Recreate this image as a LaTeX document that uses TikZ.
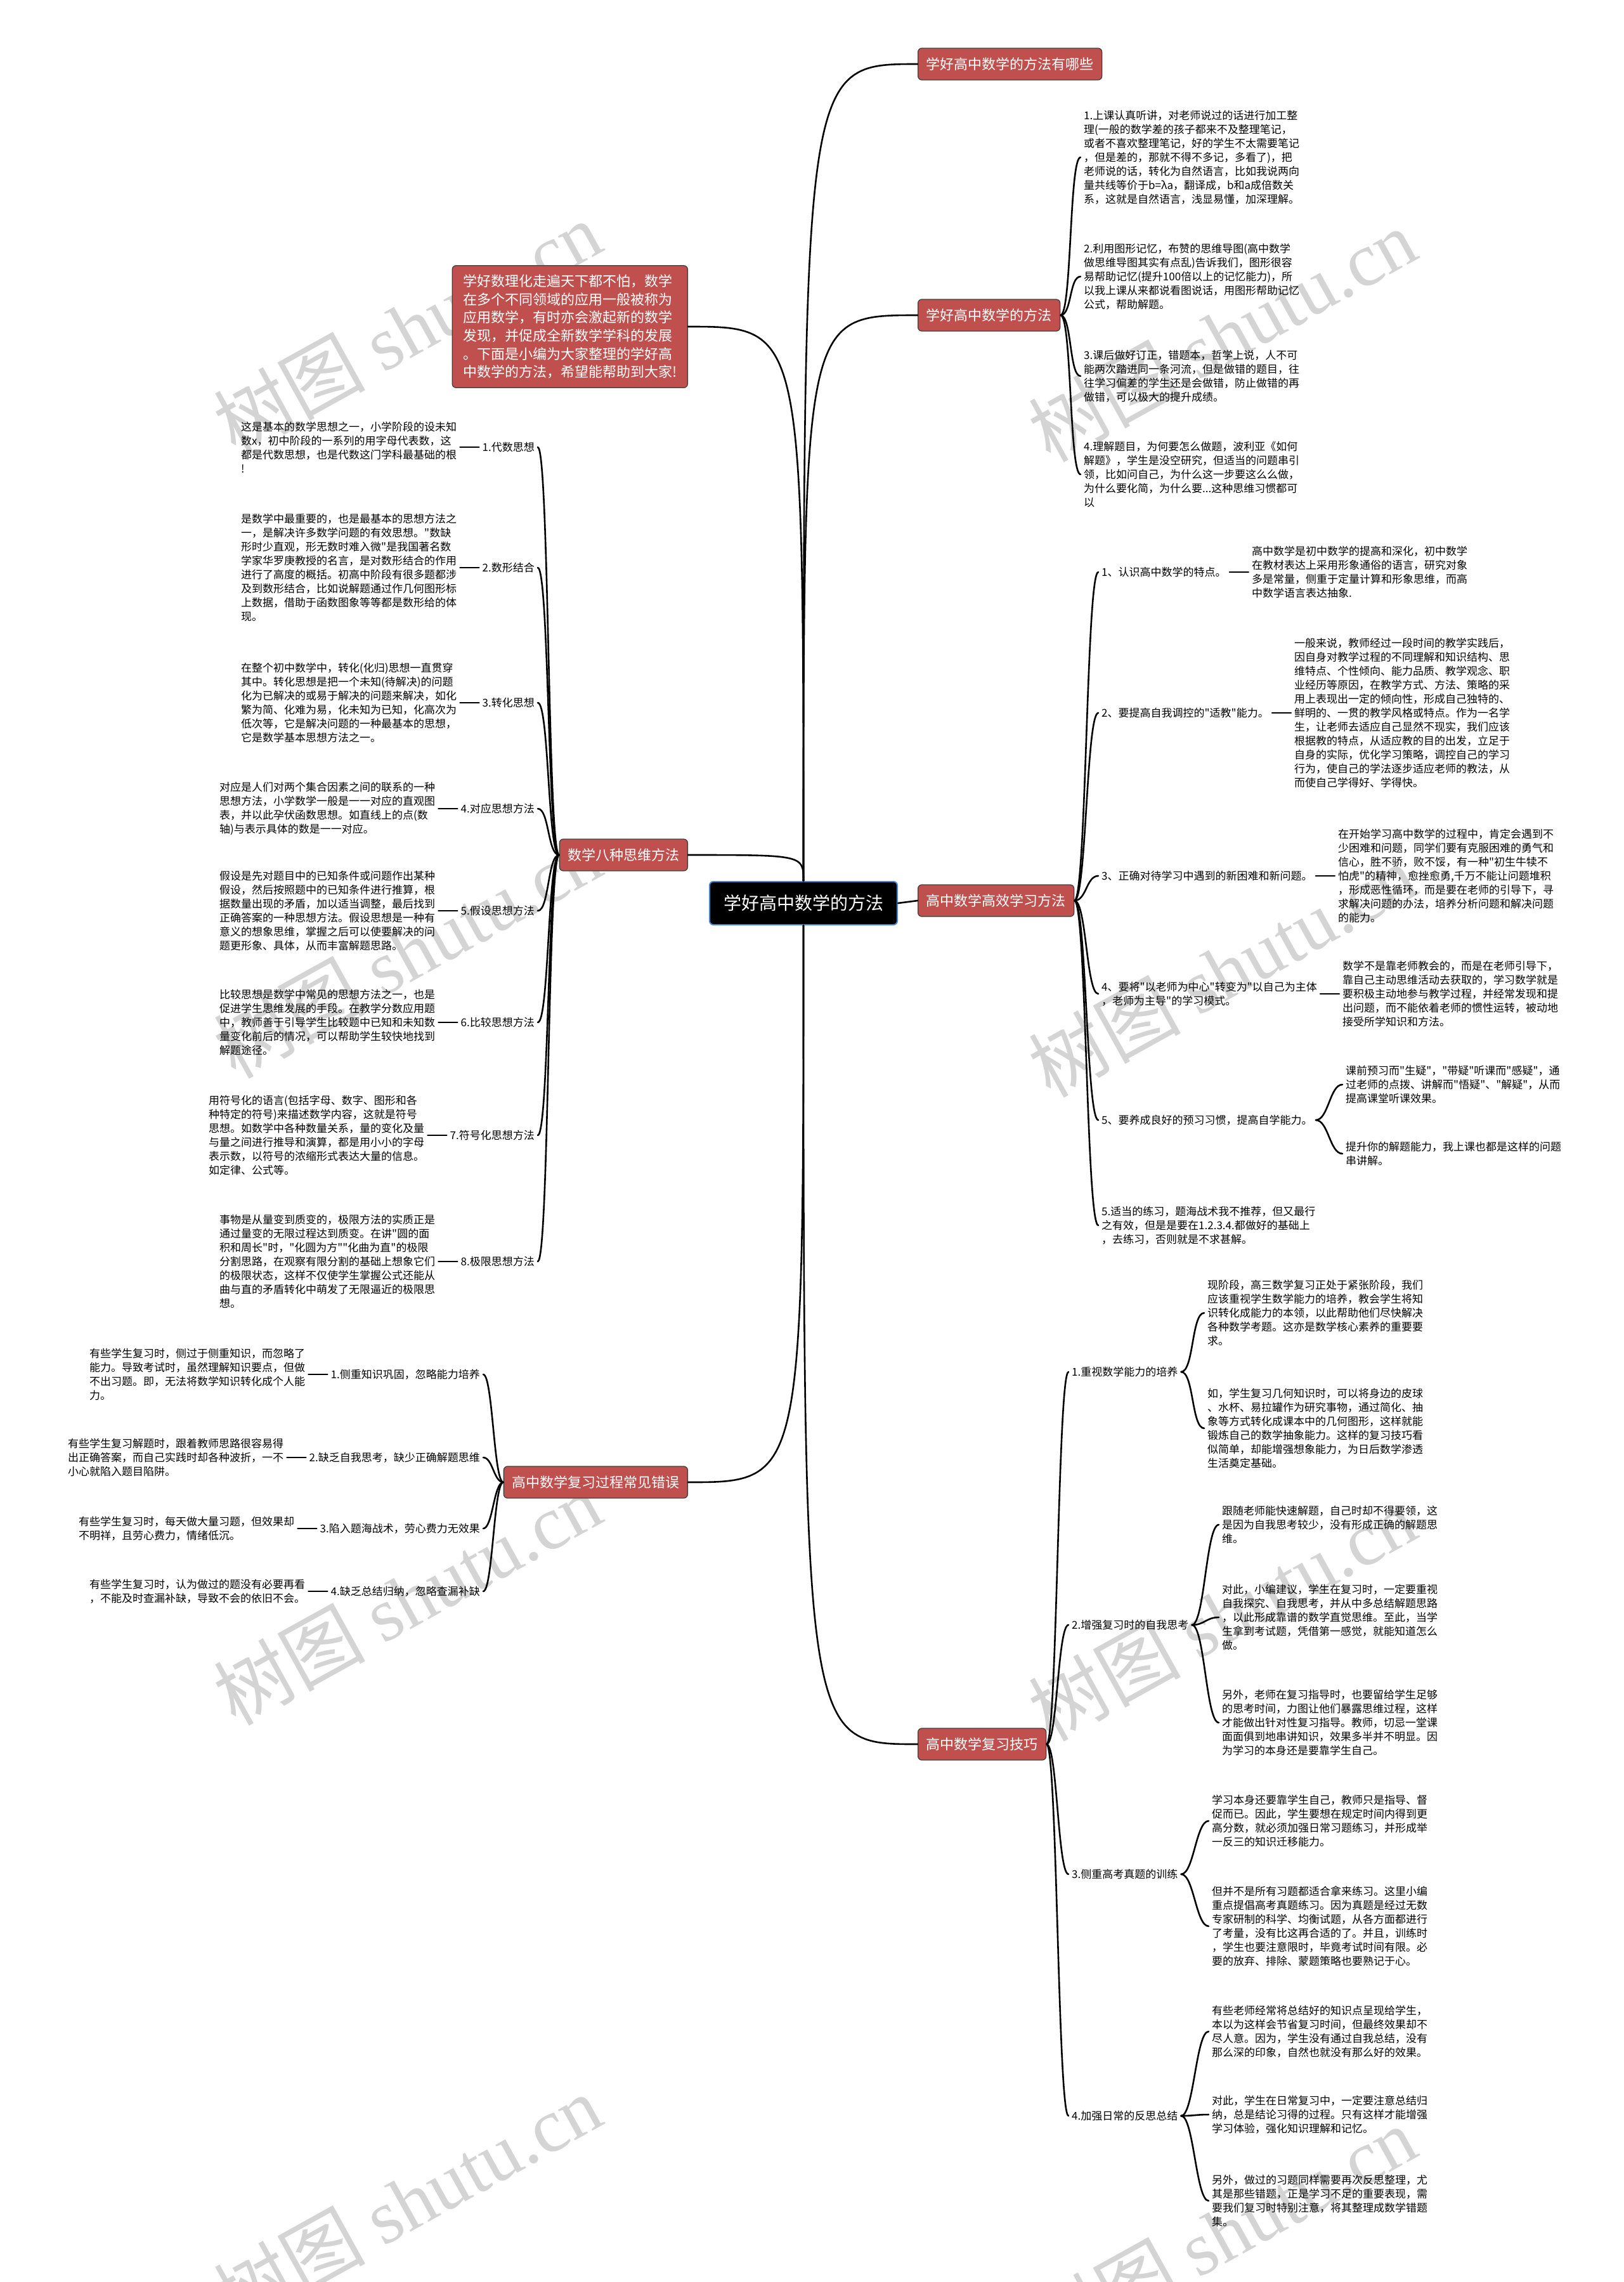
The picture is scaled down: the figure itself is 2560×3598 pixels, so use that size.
\documentclass[tikz,border=0pt]{standalone}
\usepackage{fontspec}
\newfontfamily\cjk[Ligatures=TeXOff]{Noto Sans CJK SC}
\newfontfamily\wmserif{Liberation Serif}
\usetikzlibrary{positioning}
\definecolor{nodered}{RGB}{192,80,77}
\definecolor{rootedge}{RGB}{74,134,206}

\begin{document}
\begin{tikzpicture}[x=1pt, y=-1pt,
  node distance=30pt,
  root/.style={draw=rootedge, line width=2pt, fill=black, text=white, rounded corners=6pt,
               font=\cjk\fontsize{28}{34}\selectfont, minimum width=296pt, minimum height=68pt},
  topic/.style={draw=black!75, line width=1.3pt, fill=nodered, text=white, rounded corners=6pt,
                font=\cjk\fontsize{22}{26}\selectfont, minimum height=50pt, inner xsep=13pt},
  intro/.style={topic, align=left, font=\cjk\fontsize{22}{28.7}\selectfont,
                inner xsep=17pt, inner ysep=14pt},
  leaf/.style={align=left, font=\cjk\fontsize{17}{22}\selectfont, inner sep=5pt},
  link/.style={line width=2.6pt, line cap=round},
  wmark/.style={text=black!17, rotate=29, font=\cjk\fontsize{120}{130}\selectfont}]
  \useasboundingbox (0,0) rectangle (2560,3598);
  \fill[white] (0,0) rectangle (2560,3598);

  % watermark
  \foreach \wx/\wy [count=\w] in {642/516, 1927/528, 642/1500, 1927/1530,
                                  642/2520, 1927/2545, 642/3470, 1927/3520}
    \node[wmark] (wm\w) at (\wx,\wy) {树图 {\wmserif shutu.cn}};

  % centre and main topics
  \node[root] (root) at (1267,1424) {学好高中数学的方法};
  \node[topic, anchor=west] (way) at (1447,101) {学好高中数学的方法有哪些};
  \node[topic, anchor=west] (meth) at (1447,497) {学好高中数学的方法};
  \node[intro, anchor=east] (intro) at (1085,515) {学好数理化走遍天下都不怕，数学\\
    在多个不同领域的应用一般被称为\\应用数学，有时亦会激起新的数学\\
    发现，并促成全新数学学科的发展\\。下面是小编为大家整理的学好高\\
    中数学的方法，希望能帮助到大家!};
  \node[topic, anchor=east] (eight) at (1085,1348) {数学八种思维方法};
  \node[topic, anchor=west] (eff) at (1447,1420) {高中数学高效学习方法};
  \node[topic, anchor=east] (err) at (1085,2337) {高中数学复习过程常见错误};
  \node[topic, anchor=west] (tip) at (1447,2750) {高中数学复习技巧};

  \foreach \t in {way,meth}
    \draw[link] (root.north) .. controls (root.north |- \t.west) and (root.north |- \t.west) .. (\t.west);
  \foreach \t in {intro,eight}
    \draw[link] (root.north) .. controls (root.north |- \t.east) and (root.north |- \t.east) .. (\t.east);
  \draw[link] (root.east) -- (eff.west);
  \draw[link] (root.south) .. controls (root.south |- err.east) and (root.south |- err.east) .. (err.east);
  \draw[link] (root.south) .. controls (root.south |- tip.west) and (root.south |- tip.west) .. (tip.west);

  % 学好高中数学的方法
  \node[leaf, anchor=west] (m1) at (1704,248) {1.上课认真听讲，对老师说过的话进行加工整\\
    理(一般的数学差的孩子都来不及整理笔记，\\或者不喜欢整理笔记，好的学生不太需要笔记\\
    ，但是差的，那就不得不多记，多看了)，把\\老师说的话，转化为自然语言，比如我说两向\\
    量共线等价于b=λa，翻译成，b和a成倍数关\\系，这就是自然语言，浅显易懂，加深理解。};
  \node[leaf, anchor=west] (m2) at (1704,436) {2.利用图形记忆，布赞的思维导图(高中数学\\
    做思维导图其实有点乱)告诉我们，图形很容\\易帮助记忆(提升100倍以上的记忆能力)，所\\
    以我上课从来都说看图说话，用图形帮助记忆\\公式，帮助解题。};
  \node[leaf, anchor=west] (m3) at (1704,593) {3.课后做好订正，错题本，哲学上说，人不可\\
    能两次踏进同一条河流，但是做错的题目，往\\往学习偏差的学生还是会做错，防止做错的再\\
    做错，可以极大的提升成绩。};
  \node[leaf, anchor=west] (m4) at (1704,748) {4.理解题目，为何要怎么做题，波利亚《如何\\
    解题》，学生是没空研究，但适当的问题串引\\领，比如问自己，为什么这一步要这么么做，\\
    为什么要化简，为什么要...这种思维习惯都可\\以};
  \foreach \c in {m1,m2,m3,m4}
    \draw[link] (meth.east) .. controls +(18,0) and +(-18,0) .. (\c.west);

  % 数学八种思维方法
  \node[leaf, anchor=east] (e1) at (848,705) {1.代数思想};
  \node[leaf, anchor=east] (e2) at (848,895) {2.数形结合};
  \node[leaf, anchor=east] (e3) at (848,1108) {3.转化思想};
  \node[leaf, anchor=east] (e4) at (848,1275) {4.对应思想方法};
  \node[leaf, anchor=east] (e5) at (848,1436) {5.假设思想方法};
  \node[leaf, anchor=east] (e6) at (848,1612) {6.比较思想方法};
  \node[leaf, anchor=east] (e7) at (848,1790) {7.符号化思想方法};
  \node[leaf, anchor=east] (e8) at (848,1989) {8.极限思想方法};
  \node[leaf, left=of e1] (ed1) {这是基本的数学思想之一，小学阶段的设未知\\
    数x，初中阶段的一系列的用字母代表数，这\\都是代数思想，也是代数这门学科最基础的根\\!};
  \node[leaf, left=of e2] (ed2) {是数学中最重要的，也是最基本的思想方法之\\
    一，是解决许多数学问题的有效思想。"数缺\\形时少直观，形无数时难入微"是我国著名数\\
    学家华罗庚教授的名言，是对数形结合的作用\\进行了高度的概括。初高中阶段有很多题都涉\\
    及到数形结合，比如说解题通过作几何图形标\\上数据，借助于函数图象等等都是数形给的体\\现。};
  \node[leaf, left=of e3] (ed3) {在整个初中数学中，转化(化归)思想一直贯穿\\
    其中。转化思想是把一个未知(待解决)的问题\\化为已解决的或易于解决的问题来解决，如化\\
    繁为简、化难为易，化未知为已知，化高次为\\低次等，它是解决问题的一种最基本的思想，\\
    它是数学基本思想方法之一。};
  \node[leaf, left=of e4] (ed4) {对应是人们对两个集合因素之间的联系的一种\\
    思想方法，小学数学一般是一一对应的直观图\\表，并以此孕伏函数思想。如直线上的点(数\\
    轴)与表示具体的数是一一对应。};
  \node[leaf, left=of e5] (ed5) {假设是先对题目中的已知条件或问题作出某种\\
    假设，然后按照题中的已知条件进行推算，根\\据数量出现的矛盾，加以适当调整，最后找到\\
    正确答案的一种思想方法。假设思想是一种有\\意义的想象思维，掌握之后可以使要解决的问\\
    题更形象、具体，从而丰富解题思路。};
  \node[leaf, left=of e6] (ed6) {比较思想是数学中常见的思想方法之一，也是\\
    促进学生思维发展的手段。在教学分数应用题\\中，教师善于引导学生比较题中已知和未知数\\
    量变化前后的情况，可以帮助学生较快地找到\\解题途径。};
  \node[leaf, left=of e7] (ed7) {用符号化的语言(包括字母、数字、图形和各\\
    种特定的符号)来描述数学内容，这就是符号\\思想。如数学中各种数量关系，量的变化及量\\
    与量之间进行推导和演算，都是用小小的字母\\表示数，以符号的浓缩形式表达大量的信息。\\
    如定律、公式等。};
  \node[leaf, left=of e8] (ed8) {事物是从量变到质变的，极限方法的实质正是\\
    通过量变的无限过程达到质变。在讲"圆的面\\积和周长"时，"化圆为方""化曲为直"的极限\\
    分割思路，在观察有限分割的基础上想象它们\\的极限状态，这样不仅使学生掌握公式还能从\\
    曲与直的矛盾转化中萌发了无限逼近的极限思\\想。};
  \foreach \i in {1,...,8} {
    \draw[link] (eight.west) .. controls +(-18,0) and +(18,0) .. (e\i.east);
    \draw[link] (e\i.west) -- (ed\i.east);
  }

  % 高中数学高效学习方法
  \node[leaf, anchor=west] (f1) at (1732,902) {1、认识高中数学的特点。};
  \node[leaf, anchor=west] (f2) at (1732,1124) {2、要提高自我调控的"适教"能力。};
  \node[leaf, anchor=west] (f3) at (1732,1381) {3、正确对待学习中遇到的新困难和新问题。};
  \node[leaf, anchor=west] (f4) at (1732,1567) {4、要将"以老师为中心"转变为"以自己为主体\\
    ，老师为主导"的学习模式。};
  \node[leaf, anchor=west] (f5) at (1732,1766) {5、要养成良好的预习习惯，提高自学能力。};
  \node[leaf, anchor=west] (f6) at (1732,1932) {5.适当的练习，题海战术我不推荐，但又最行\\
    之有效，但是是要在1.2.3.4.都做好的基础上\\，去练习，否则就是不求甚解。};
  \node[leaf, right=of f1] (fd1) {高中数学是初中数学的提高和深化，初中数学\\
    在教材表达上采用形象通俗的语言，研究对象\\多是常量，侧重于定量计算和形象思维，而高\\
    中数学语言表达抽象.};
  \node[leaf, right=of f2] (fd2) {一般来说，教师经过一段时间的教学实践后，\\
    因自身对教学过程的不同理解和知识结构、思\\维特点、个性倾向、能力品质、教学观念、职\\
    业经历等原因，在教学方式、方法、策略的采\\用上表现出一定的倾向性，形成自己独特的、\\
    鲜明的、一贯的教学风格或特点。作为一名学\\生，让老师去适应自己显然不现实，我们应该\\
    根据教的特点，从适应教的目的出发，立足于\\自身的实际，优化学习策略，调控自己的学习\\
    行为，使自己的学法逐步适应老师的教法，从\\而使自己学得好、学得快。};
  \node[leaf, right=of f3] (fd3) {在开始学习高中数学的过程中，肯定会遇到不\\
    少困难和问题，同学们要有克服困难的勇气和\\信心，胜不骄，败不馁，有一种"初生牛犊不\\
    怕虎"的精神，愈挫愈勇,千万不能让问题堆积\\，形成恶性循环，而是要在老师的引导下，寻\\
    求解决问题的办法，培养分析问题和解决问题\\的能力。};
  \node[leaf, right=of f4] (fd4) {数学不是靠老师教会的，而是在老师引导下，\\
    靠自己主动思维活动去获取的，学习数学就是\\要积极主动地参与教学过程，并经常发现和提\\
    出问题，而不能依着老师的惯性运转，被动地\\接受所学知识和方法。};
  \node[leaf, anchor=west] (fd5a) at (2117,1710) {课前预习而"生疑"，"带疑"听课而"感疑"，通\\
    过老师的点拨、讲解而"悟疑"、"解疑"，从而\\提高课堂听课效果。};
  \node[leaf, anchor=west] (fd5b) at (2117,1819) {提升你的解题能力，我上课也都是这样的问题\\串讲解。};
  \foreach \i in {1,...,6}
    \draw[link] (eff.east) .. controls +(19,0) and +(-19,0) .. (f\i.west);
  \foreach \i in {1,...,4}
    \draw[link] (f\i.east) -- (fd\i.west);
  \foreach \c in {fd5a,fd5b}
    \draw[link] (f5.east) .. controls +(20,0) and +(-20,0) .. (\c.west);

  % 高中数学复习过程常见错误
  \node[leaf, anchor=east] (r1) at (762,2167) {1.侧重知识巩固，忽略能力培养};
  \node[leaf, anchor=east] (r2) at (762,2298) {2.缺乏自我思考，缺少正确解题思维};
  \node[leaf, anchor=east] (r3) at (762,2410) {3.陷入题海战术，劳心费力无效果};
  \node[leaf, anchor=east] (r4) at (762,2509) {4.缺乏总结归纳，忽略查漏补缺};
  \node[leaf, left=of r1] (rd1) {有些学生复习时，侧过于侧重知识，而忽略了\\
    能力。导致考试时，虽然理解知识要点，但做\\不出习题。即，无法将数学知识转化成个人能\\力。};
  \node[leaf, left=of r2] (rd2) {有些学生复习解题时，跟着教师思路很容易得\\
    出正确答案，而自己实践时却各种波折，一不\\小心就陷入题目陷阱。};
  \node[leaf, left=of r3] (rd3) {有些学生复习时，每天做大量习题，但效果却\\
    不明祥，且劳心费力，情绪低沉。};
  \node[leaf, left=of r4] (rd4) {有些学生复习时，认为做过的题没有必要再看\\
    ，不能及时查漏补缺，导致不会的依旧不会。};
  \foreach \i in {1,...,4} {
    \draw[link] (err.west) .. controls +(-15,0) and +(15,0) .. (r\i.east);
    \draw[link] (r\i.west) -- (rd\i.east);
  }

  % 高中数学复习技巧
  \node[leaf, anchor=west] (t1) at (1685,2163) {1.重视数学能力的培养};
  \node[leaf, anchor=west] (t2) at (1685,2562) {2.增强复习时的自我思考};
  \node[leaf, anchor=west] (t3) at (1685,2955) {3.侧重高考真题的训练};
  \node[leaf, anchor=west] (t4) at (1685,3336) {4.加强日常的反思总结};
  \node[leaf, anchor=west] (t1a) at (1899,2070) {现阶段，高三数学复习正处于紧张阶段，我们\\
    应该重视学生数学能力的培养，教会学生将知\\识转化成能力的本领，以此帮助他们尽快解决\\
    各种数学考题。这亦是数学核心素养的重要要\\求。};
  \node[leaf, anchor=west] (t1b) at (1899,2252) {如，学生复习几何知识时，可以将身边的皮球\\
    、水杯、易拉罐作为研究事物，通过简化、抽\\象等方式转化成课本中的几何图形，这样就能\\
    锻炼自己的数学抽象能力。这样的复习技巧看\\似简单，却能增强想象能力，为日后数学渗透\\
    生活奠定基础。};
  \node[leaf, anchor=west] (t2a) at (1922,2404) {跟随老师能快速解题，自己时却不得要领，这\\
    是因为自我思考较少，没有形成正确的解题思\\维。};
  \node[leaf, anchor=west] (t2b) at (1922,2550) {对此，小编建议，学生在复习时，一定要重视\\
    自我探究、自我思考，并从中多总结解题思路\\，以此形成靠谱的数学直觉思维。至此，当学\\
    生拿到考试题，凭借第一感觉，就能知道怎么\\做。};
  \node[leaf, anchor=west] (t2c) at (1922,2716) {另外，老师在复习指导时，也要留给学生足够\\
    的思考时间，力图让他们暴露思维过程，这样\\才能做出针对性复习指导。教师，切忌一堂课\\
    面面俱到地串讲知识，效果多半并不明显。因\\为学习的本身还是要靠学生自己。};
  \node[leaf, anchor=west] (t3a) at (1906,2871) {学习本身还要靠学生自己，教师只是指导、督\\
    促而已。因此，学生要想在规定时间内得到更\\高分数，就必须加强日常习题练习，并形成举\\
    一反三的知识迁移能力。};
  \node[leaf, anchor=west] (t3b) at (1906,3037) {但并不是所有习题都适合拿来练习。这里小编\\
    重点提倡高考真题练习。因为真题是经过无数\\专家研制的科学、均衡试题，从各方面都进行\\
    了考量，没有比这再合适的了。并且，训练时\\，学生也要注意限时，毕竟考试时间有限。必\\
    要的放弃、排除、蒙题策略也要熟记于心。};
  \node[leaf, anchor=west] (t4a) at (1906,3203) {有些老师经常将总结好的知识点呈现给学生，\\
    本以为这样会节省复习时间，但最终效果却不\\尽人意。因为，学生没有通过自我总结，没有\\
    那么深的印象，自然也就没有那么好的效果。};
  \node[leaf, anchor=west] (t4b) at (1906,3334) {对此，学生在日常复习中，一定要注意总结归\\
    纳，总是结论习得的过程。只有这样才能增强\\学习体验，强化知识理解和记忆。};
  \node[leaf, anchor=west] (t4c) at (1906,3470) {另外，做过的习题同样需要再次反思整理，尤\\
    其是那些错题，正是学习不足的重要表现，需\\要我们复习时特别注意，将其整理成数学错题\\集。};
  \foreach \i in {1,...,4}
    \draw[link] (tip.east) .. controls +(17,0) and +(-17,0) .. (t\i.west);
  \foreach \p/\c in {t1/t1a, t1/t1b, t2/t2a, t2/t2b, t2/t2c, t3/t3a, t3/t3b, t4/t4a, t4/t4b, t4/t4c}
    \draw[link] (\p.east) .. controls +(20,0) and +(-20,0) .. (\c.west);
\end{tikzpicture}
\end{document}
